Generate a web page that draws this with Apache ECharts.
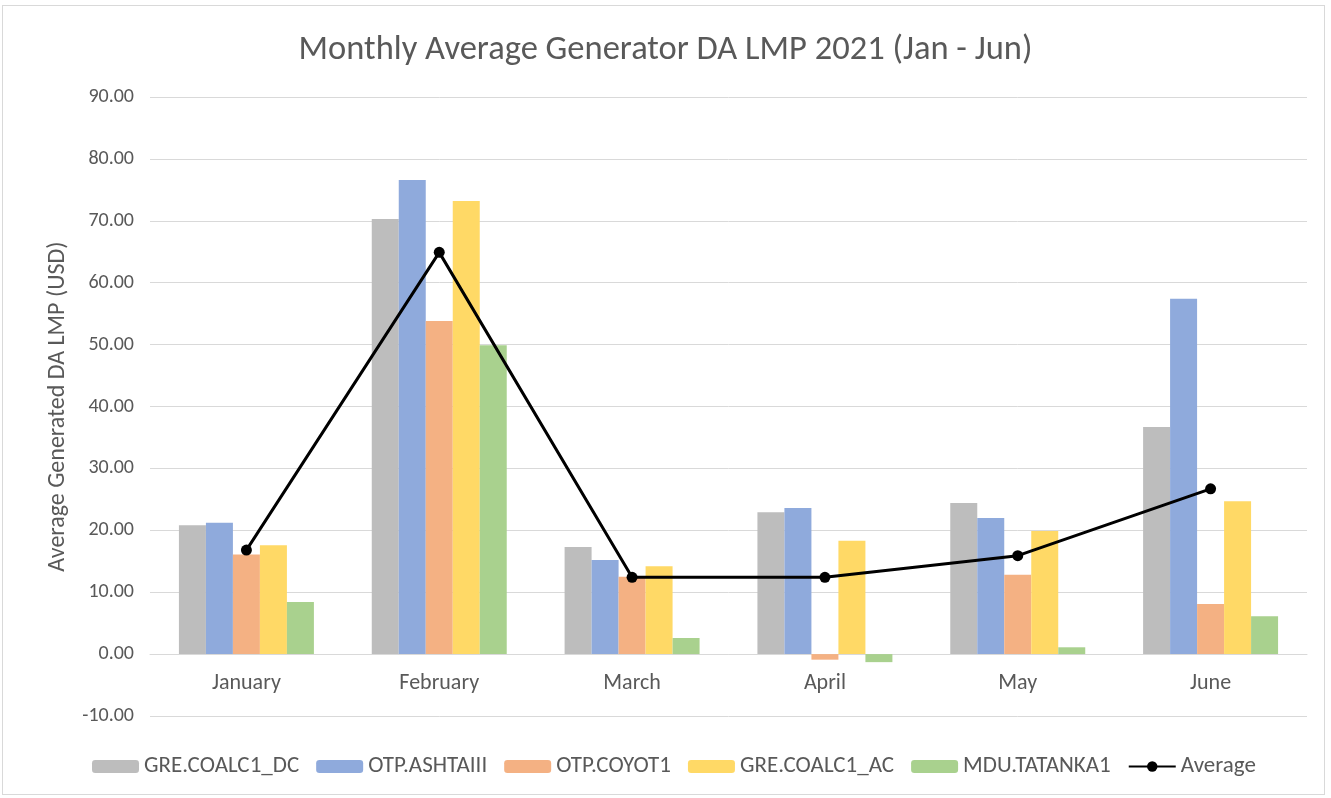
<!DOCTYPE html>
<html>
<head>
<meta charset="utf-8">
<script src="https://cdn.jsdelivr.net/npm/echarts@6/dist/echarts.min.js"></script>
<style>
  html, body { margin: 0; padding: 0; background: #fff; }
  #frame { position: absolute; left: 2px; top: 5px; width: 1323px; height: 790px; border: 1px solid #d9d9d9; box-sizing: border-box; }
  #main { position: absolute; left: 0; top: 0; width: 1331px; height: 798px; }
</style>
</head>
<body>
<div id="frame"></div>
<div id="main"></div>
<script>
// 数据
var months = ['January', 'February', 'March', 'April', 'May', 'June'];
var greCoalDC = [20.8, 70.3, 17.3, 22.9, 24.4, 36.7];
var otpAshta = [21.2, 76.6, 15.2, 23.6, 22.0, 57.4];
var otpCoyot = [16.1, 53.8, 12.5, -0.9, 12.8, 8.1];
var greCoalAC = [17.6, 73.2, 14.2, 18.3, 19.9, 24.7];
var mduTatanka = [8.4, 49.9, 2.6, -1.3, 1.1, 6.1];
var average = [16.8, 64.9, 12.4, 12.4, 15.9, 26.7];

var fontName = 'Carlito, Calibri, Lato, sans-serif';
var textColor = '#595959';

function barSeries(name, data, color) {
	return {
		name: name,
		type: 'bar',
		data: data,
		barGap: '0%',
		barCategoryGap: '30%',
		itemStyle: { color: color }
	};
}

var myChart = echarts.init(document.getElementById('main'));
var option = {
	backgroundColor: 'transparent',
	animation: false,
	textStyle: { fontFamily: fontName },
	title: {
		text: 'Monthly Average Generator DA LMP 2021 (Jan - Jun)',
		left: 'center',
		top: 28,
		textStyle: { fontFamily: fontName, fontSize: 34.5, fontWeight: 'normal', color: textColor }
	},
	grid: { left: 150, right: 24, top: 97, bottom: 82 },
	legend: {
		left: 87,
		top: 750,
		itemWidth: 47,
		itemHeight: 13,
		itemGap: 17,
		textStyle: { fontFamily: fontName, fontSize: 23, color: textColor },
		data: ['GRE.COALC1_DC', 'OTP.ASHTAIII', 'OTP.COYOT1', 'GRE.COALC1_AC', 'MDU.TATANKA1', 'Average']
	},
	xAxis: {
		type: 'category',
		data: months,
		offset: -61.9,
		axisLine: { onZero: false, lineStyle: { color: '#d9d9d9', width: 1 } },
		axisTick: { show: false },
		axisLabel: { fontFamily: fontName, fontSize: 22, color: textColor, margin: 18 }
	},
	yAxis: {
		type: 'value',
		min: -10,
		max: 90,
		interval: 10,
		name: 'Average Generated DA LMP (USD)',
		nameLocation: 'middle',
		nameGap: 80,
		nameTextStyle: { fontFamily: fontName, fontSize: 24, color: textColor },
		axisLine: { show: false },
		axisTick: { show: false },
		axisLabel: {
			fontFamily: fontName, fontSize: 20, color: textColor, margin: 16,
			formatter: function (v) { return v.toFixed(2); }
		},
		splitLine: { lineStyle: { color: '#d9d9d9', width: 1 } }
	},
	series: [
		barSeries('GRE.COALC1_DC', greCoalDC, '#bdbdbd'),
		barSeries('OTP.ASHTAIII', otpAshta, '#8faadc'),
		barSeries('OTP.COYOT1', otpCoyot, '#f4b183'),
		barSeries('GRE.COALC1_AC', greCoalAC, '#ffd966'),
		barSeries('MDU.TATANKA1', mduTatanka, '#a9d18e'),
		{
			name: 'Average',
			type: 'line',
			data: average,
			symbol: 'circle',
			symbolSize: 11,
			z: 5,
			lineStyle: { color: '#000', width: 3 },
			itemStyle: { color: '#000' }
		}
	]
};
myChart.setOption(option);
</script>
</body>
</html>
